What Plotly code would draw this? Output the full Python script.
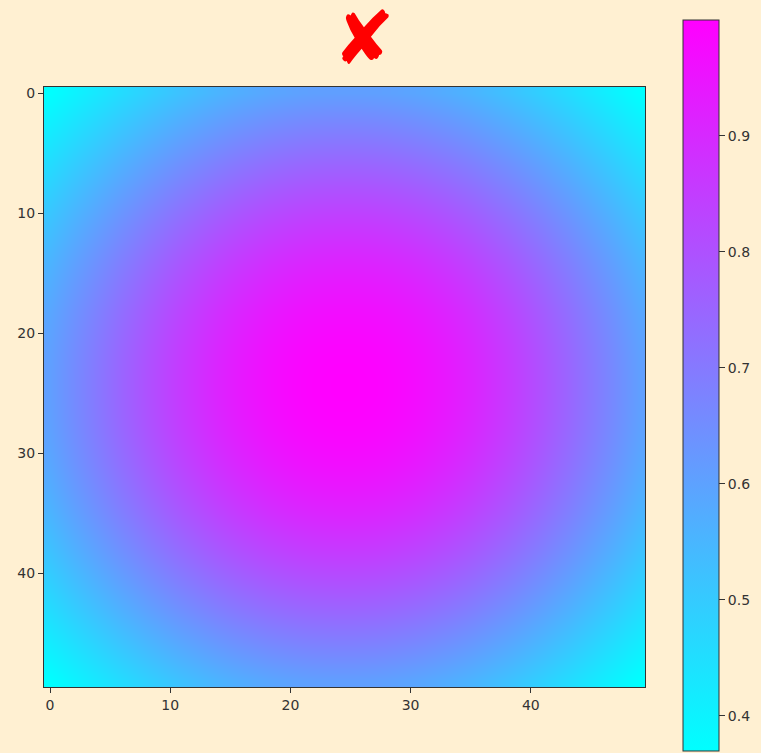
import plotly.graph_objects as go

# Profile along one axis; the image is the outer product
profile = [0.608, 0.632, 0.657, 0.681, 0.705, 0.729, 0.753, 0.775, 0.798, 0.819,
           0.840, 0.860, 0.878, 0.896, 0.913, 0.928, 0.942, 0.954, 0.966, 0.975,
           0.983, 0.990, 0.995, 0.998, 1.000, 1.000, 0.998, 0.995, 0.990, 0.983,
           0.975, 0.966, 0.954, 0.942, 0.928, 0.913, 0.896, 0.878, 0.860, 0.840,
           0.819, 0.798, 0.775, 0.753, 0.729, 0.705, 0.681, 0.657, 0.632, 0.608]
axis_ticks = [0, 10, 20, 30, 40]
cbar_ticks = [0.4, 0.5, 0.6, 0.7, 0.8, 0.9]
title_text = "✘"

n = len(profile)
idx = list(range(n))
z = [[profile[r] * profile[c] for c in idx] for r in idx]

BG = "#FFF0D2"
TXT = "#333333"

PL, PR, PT, PB = 44, 645, 87, 687
PW, PH = PR - PL, PB - PT

fig = go.Figure(go.Heatmap(
    z=z, x=idx, y=idx,
    colorscale=[[0, "rgb(0,255,255)"], [1, "rgb(255,0,255)"]],
    zsmooth="best",
    hoverinfo="skip",
    colorbar=dict(
        thickness=36,
        lenmode="pixels", len=731,
        x=(683 - PL) / PW, xanchor="left",
        y=1 + (PT - 20) / PH, yanchor="top",
        xpad=0, ypad=0,
        outlinewidth=1, outlinecolor=TXT,
        tickvals=cbar_ticks, ticktext=[f"{v:.1f}" for v in cbar_ticks],
        ticks="outside", ticklen=6, tickcolor=TXT, tickwidth=1,
        tickfont=dict(family="DejaVu Sans", size=14, color=TXT),
    ),
))

axis_common = dict(
    tickvals=axis_ticks, ticktext=[str(v) for v in axis_ticks],
    ticks="outside", ticklen=5, tickcolor=TXT, tickwidth=1,
    tickfont=dict(family="DejaVu Sans", size=14, color=TXT),
    showline=True, linecolor=TXT, linewidth=1, mirror=True,
    showgrid=False, zeroline=False,
)

fig.update_layout(
    width=761, height=753,
    paper_bgcolor=BG, plot_bgcolor=BG,
    margin=dict(l=PL, r=761 - PR, t=PT, b=753 - PB, autoexpand=False),
    xaxis=dict(range=[-0.5, n - 0.5], **axis_common),
    yaxis=dict(range=[n - 0.5, -0.5], **axis_common),
    annotations=[dict(
        text=title_text, xref="paper", yref="paper",
        x=(364 - PL) / PW, y=1 + (PT - 38) / PH,
        xanchor="center", yanchor="middle", showarrow=False,
        font=dict(family="DejaVu Sans", size=74, color="red"),
    )],
)

fig.write_html(
    "out.html",
    config={"displayModeBar": False},
    post_script="document.body.style.margin='0';document.body.style.overflow='hidden';",
)
